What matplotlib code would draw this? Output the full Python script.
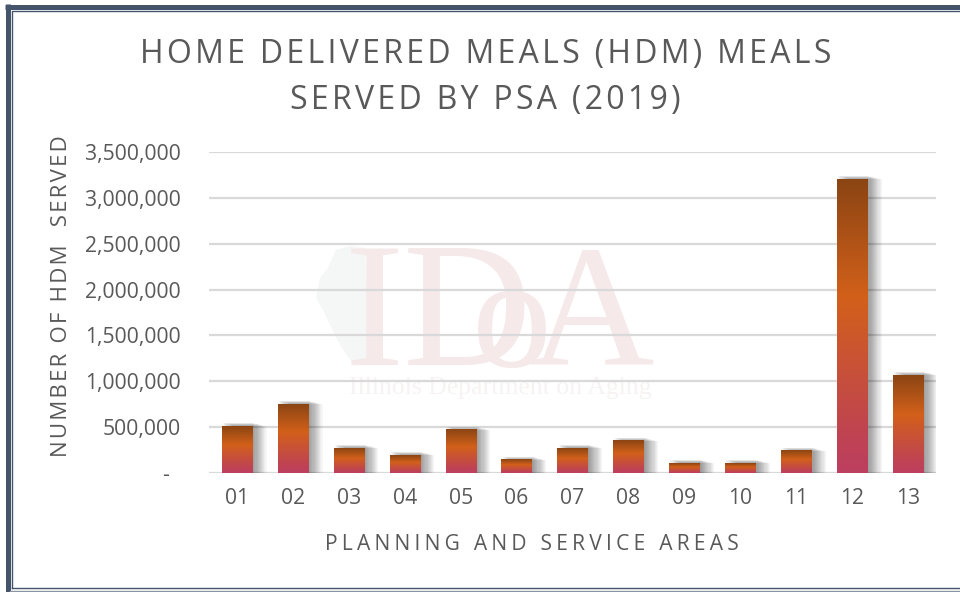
import numpy as np
import matplotlib.pyplot as plt
from matplotlib.colors import LinearSegmentedColormap
from matplotlib.patches import Polygon, Rectangle

plt.rcParams['font.family'] = ['Open Sans', 'DejaVu Sans']

psa = ["01", "02", "03", "04", "05", "06", "07", "08", "09", "10", "11", "12", "13"]
meals = [512000, 752000, 272000, 196000, 469000, 142000, 272000, 349000, 109000, 109000, 240000, 3205000, 1068000]
yticks = [0, 500000, 1000000, 1500000, 2000000, 2500000, 3000000, 3500000]
ylabels = ["-  ", "500,000", "1,000,000", "1,500,000", "2,000,000", "2,500,000", "3,000,000", "3,500,000"]
title_lines = ["HOME DELIVERED MEALS (HDM) MEALS", "SERVED BY PSA (2019)"]
illinois = [(336, 250), (350, 246), (365, 248), (368, 300), (368, 362), (356, 366), (349, 358), (340, 345),
            (330, 325), (324, 312), (316, 298), (320, 278), (328, 268)]

TEXT = "#595959"
GRID = "#d9d9d9"
NAVY = "#44546a"


def spaced(s, n=1):
    # no letter spacing in matplotlib, so use hair spaces
    return ("\u200a" * n).join(s)


fig = plt.figure(figsize=(9.6, 5.92), dpi=100)
ax = fig.add_axes([209 / 960, 1 - 473 / 592, (936 - 209) / 960, 321 / 592])

bg = fig.add_axes([0, 0, 1, 1], zorder=-1)
bg.set_xlim(0, 960)
bg.set_ylim(592, 0)
bg.axis("off")

# page border, thick top and left, thin lines inside and at the bottom
bg.plot([7.5, 7.5], [4, 592], color=NAVY, lw=3.6, solid_capstyle="butt")
bg.plot([5, 960], [6.5, 6.5], color=NAVY, lw=3.6, solid_capstyle="butt")
bg.plot([12, 12, 960], [588, 11, 11], color=NAVY, lw=1)
bg.plot([12, 960], [588, 588], color=NAVY, lw=1)
bg.plot([10, 960], [591, 591], color="#8a94a3", lw=1)

# watermark
bg.add_patch(Polygon(illinois, closed=True, fc="#f5f6f6", ec="none"))
bg.text(345, 365, "ID", family="Liberation Serif", fontsize=128, color="#f6e9e9", va="baseline", ha="left")
bg.text(472, 366, "o", family="Liberation Serif", fontsize=115, color="#f6e9e9", va="baseline", ha="left")
bg.text(528, 365, "A", family="Liberation Serif", fontsize=125, color="#f6e9e9", va="baseline", ha="left")
bg.text(349, 394, "Illinois Department on Aging", family="Liberation Serif", fontsize=18.5,
        color="#f7f3f3", va="baseline", ha="left")

ax.patch.set_visible(False)
ax.set_xlim(-0.5, 12.5)
ax.set_ylim(0, 3500000)
ax.set_yticks(yticks)
ax.set_yticklabels(ylabels, fontsize=15.2, color=TEXT)
ax.set_xticks(range(len(psa)))
ax.set_xticklabels(psa, fontsize=15.2, color=TEXT)
ax.tick_params(length=0)
ax.tick_params(axis="y", pad=20)
ax.tick_params(axis="x", pad=11)
ax.grid(axis="y", color=GRID, lw=1.6)
ax.set_axisbelow(True)
for s in ax.spines.values():
    s.set_visible(False)

cmap = LinearSegmentedColormap.from_list("bar", [(0, "#bd3f60"), (0.12, "#bf4353"), (0.6, "#d2601a"), (1, "#8b4513")])
grad = np.linspace(1, 0, 128).reshape(-1, 1)

bars = ax.bar(range(len(psa)), meals, width=0.54, color="none", zorder=3)
for b in bars:
    x0, w, h = b.get_x(), b.get_width(), b.get_height()
    # soft shadow to the right, stacked see through rectangles
    for k in range(1, 14):
        ax.add_patch(Rectangle((x0 + 0.02 * k, 0), w + 0.0 * k, h + 40000 - 3200 * k,
                               fc="#000000", alpha=0.035, ec="none", zorder=2.5))
    ax.imshow(grad, cmap=cmap, vmin=0, vmax=1, aspect="auto", extent=(x0, x0 + w, 0, h), zorder=3)
ax.set_xlim(-0.5, 12.5)
ax.set_ylim(0, 3500000)

bg.text(486, 55, spaced(title_lines[0]), fontsize=23, color=TEXT, ha="center", va="center")
bg.text(485, 100, spaced(title_lines[1]), fontsize=23, color=TEXT, ha="center", va="center")
bg.text(532, 545, spaced("PLANNING AND SERVICE AREAS", 2), fontsize=15.1, color=TEXT, ha="center", va="center")
bg.text(62, 296, spaced("NUMBER OF HDM  SERVED"), fontsize=16, color=TEXT, ha="center", va="center", rotation=90)

fig.savefig("out.png", dpi=100)
